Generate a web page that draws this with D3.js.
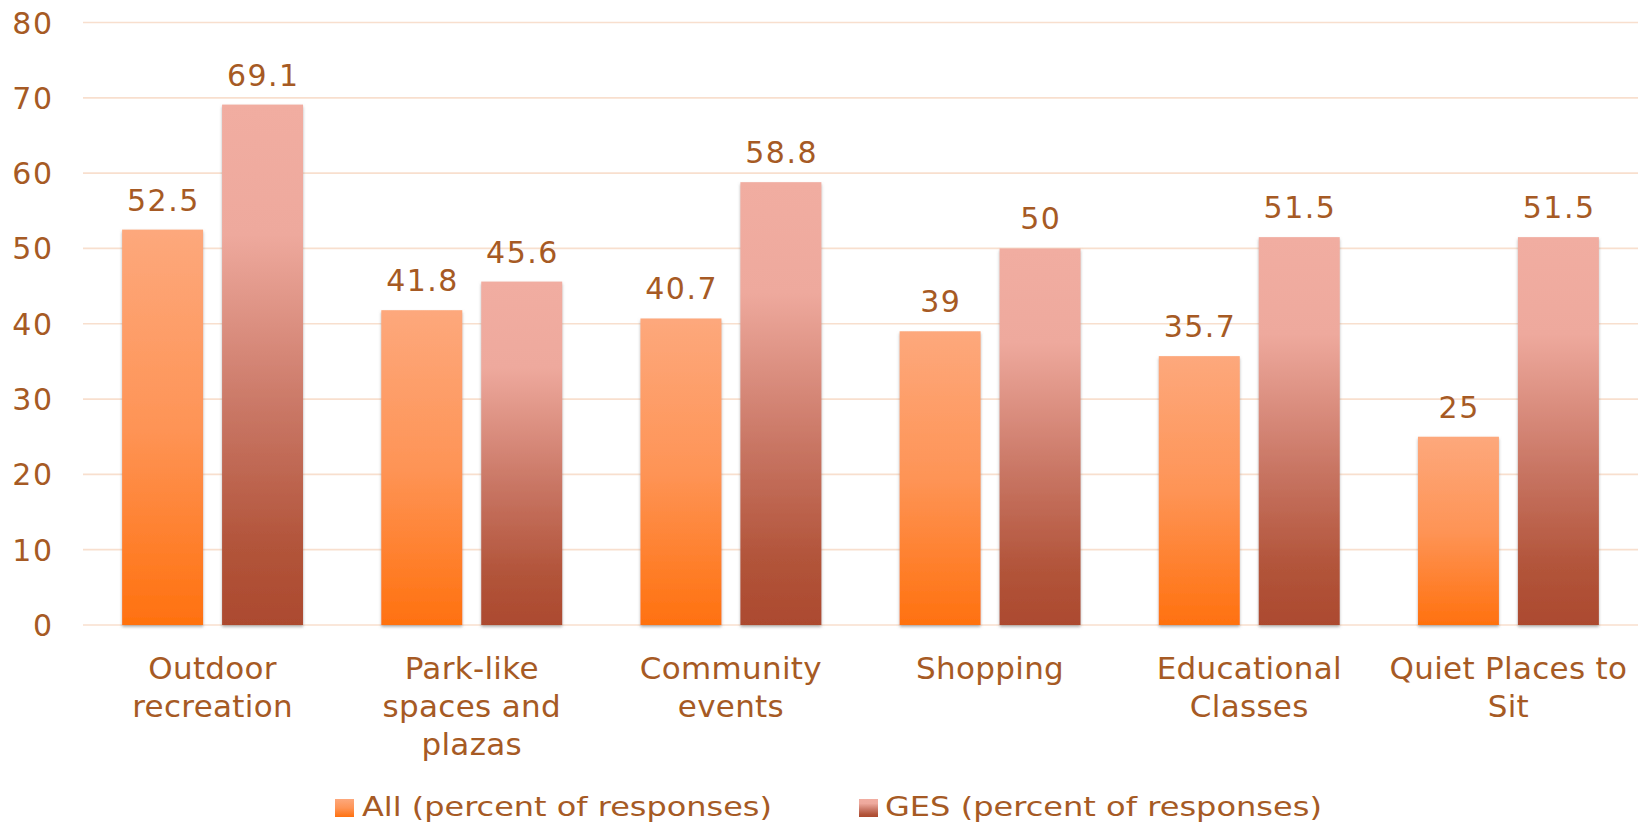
<!DOCTYPE html>
<html>
<head>
<meta charset="utf-8">
<script src="https://cdn.jsdelivr.net/npm/d3@7"></script>
<style>
  html, body { margin: 0; padding: 0; background: #fff; }
  svg { display: block; }
  text { font-family: "DejaVu Sans", Verdana, sans-serif; fill: #A65A24; }
</style>
</head>
<body>
<svg id="chart" width="1647" height="827"></svg>
<script>
const categories = ["Outdoor recreation", "Park-like spaces and plazas", "Community events", "Shopping", "Educational Classes", "Quiet Places to Sit"];
const seriesNames = ["All (percent of responses)", "GES (percent of responses)"];
const allValues = [52.5, 41.8, 40.7, 39, 35.7, 25];
const gesValues = [69.1, 45.6, 58.8, 50, 51.5, 51.5];
const yTicks = [0, 10, 20, 30, 40, 50, 60, 70, 80];

const W = 1647, H = 827;
const plot = { left: 83, right: 1638, top: 22.5, bottom: 625 };
const svg = d3.select("#chart");

const defs = svg.append("defs");
const gradAll = defs.append("linearGradient").attr("id", "gAll").attr("x1", 0).attr("y1", 0).attr("x2", 0).attr("y2", 1);
gradAll.append("stop").attr("offset", "0%").attr("stop-color", "#FDA87C");
gradAll.append("stop").attr("offset", "50%").attr("stop-color", "#FE9456");
gradAll.append("stop").attr("offset", "100%").attr("stop-color", "#FF710F");
const gradGes = defs.append("linearGradient").attr("id", "gGes").attr("x1", 0).attr("y1", 0).attr("x2", 0).attr("y2", 1);
gradGes.append("stop").attr("offset", "0%").attr("stop-color", "#F1ADA1");
gradGes.append("stop").attr("offset", "25%").attr("stop-color", "#EEA99D");
gradGes.append("stop").attr("offset", "60%").attr("stop-color", "#C87563");
gradGes.append("stop").attr("offset", "85%").attr("stop-color", "#B2543A");
gradGes.append("stop").attr("offset", "100%").attr("stop-color", "#AC4A2F");
const shadow = defs.append("filter").attr("id", "shadow").attr("x", "-10%").attr("y", "-5%").attr("width", "120%").attr("height", "115%");
shadow.append("feDropShadow").attr("dx", 0).attr("dy", 2).attr("stdDeviation", 1.5)
  .attr("flood-color", "#777").attr("flood-opacity", 0.55);

const y = d3.scaleLinear().domain([0, 80]).range([plot.bottom, plot.top]);
const x0 = d3.scaleBand().domain(categories).range([plot.left, plot.right]).paddingInner(0).paddingOuter(0);
const x1 = d3.scaleBand().domain(seriesNames).range([0, x0.bandwidth()]).paddingInner(0.19).paddingOuter(0.3915);

// gridlines
svg.append("g").selectAll("line").data(yTicks).join("line")
  .attr("x1", plot.left).attr("x2", plot.right)
  .attr("y1", d => y(d)).attr("y2", d => y(d))
  .attr("stroke", "#F8DFCE").attr("stroke-width", 1.7);

// y axis labels
const numSpacing = 1.5;
const yAxis = d3.axisLeft(y).tickValues(yTicks).tickSize(0).tickPadding(0);
const gy = svg.append("g").attr("transform", `translate(${52 + numSpacing},0)`).call(yAxis);
gy.select(".domain").remove();
gy.selectAll("text").attr("font-size", "30px").attr("fill", "#A65A24")
  .attr("letter-spacing", numSpacing + "px")
  .attr("font-family", "'DejaVu Sans', Verdana, sans-serif").attr("dy", "0.35em");

const series = [
  { name: seriesNames[0], values: allValues, fill: "url(#gAll)" },
  { name: seriesNames[1], values: gesValues, fill: "url(#gGes)" }
];

const barsG = svg.append("g");
series.forEach(s => {
  const g = barsG.append("g");
  g.selectAll("rect").data(categories).join("rect")
    .attr("x", (c) => x0(c) + x1(s.name))
    .attr("y", (c, i) => y(s.values[i]))
    .attr("width", x1.bandwidth())
    .attr("height", (c, i) => y(0) - y(s.values[i]))
    .attr("fill", s.fill)
    .attr("filter", "url(#shadow)");
  g.selectAll("text").data(categories).join("text")
    .attr("x", (c) => x0(c) + x1(s.name) + x1.bandwidth() / 2 + numSpacing / 2)
    .attr("y", (c, i) => y(s.values[i]) - 19)
    .attr("text-anchor", "middle")
    .attr("font-size", "30px")
    .attr("letter-spacing", numSpacing + "px")
    .text((c, i) => s.values[i]);
});

// category labels with wrapping
const xAxisG = svg.append("g");
categories.forEach(c => {
  const cx = x0(c) + x0.bandwidth() / 2;
  const t = xAxisG.append("text")
    .attr("x", cx)
    .attr("y", 679)
    .attr("text-anchor", "middle")
    .attr("font-size", "31px")
    .attr("letter-spacing", "0.3px");
  const words = c.split(" ");
  let lines = [], line = [];
  const probe = t.append("tspan");
  words.forEach(w => {
    const test = line.concat([w]).join(" ");
    probe.text(test);
    if (probe.node().getComputedTextLength() > 245 && line.length) {
      lines.push(line.join(" "));
      line = [w];
    } else {
      line.push(w);
    }
  });
  lines.push(line.join(" "));
  probe.remove();
  lines.forEach((l, i) => {
    t.append("tspan").attr("x", cx).attr("dy", i === 0 ? 0 : 38).text(l);
  });
});

// legend
const legendItems = [
  { name: seriesNames[0], fill: "url(#gAll)", sx: 335, tx: 362, tEnd: 772 },
  { name: seriesNames[1], fill: "url(#gGes)", sx: 859, tx: 885, tEnd: 1322 }
];
const lg = svg.append("g");
legendItems.forEach(it => {
  lg.append("rect").attr("x", it.sx).attr("y", 799).attr("width", 19).attr("height", 18).attr("fill", it.fill);
  lg.append("text").attr("x", it.tx).attr("y", 816).attr("font-size", "27px")
    .attr("textLength", it.tEnd - it.tx).attr("lengthAdjust", "spacingAndGlyphs")
    .text(it.name);
});
</script>
</body>
</html>
